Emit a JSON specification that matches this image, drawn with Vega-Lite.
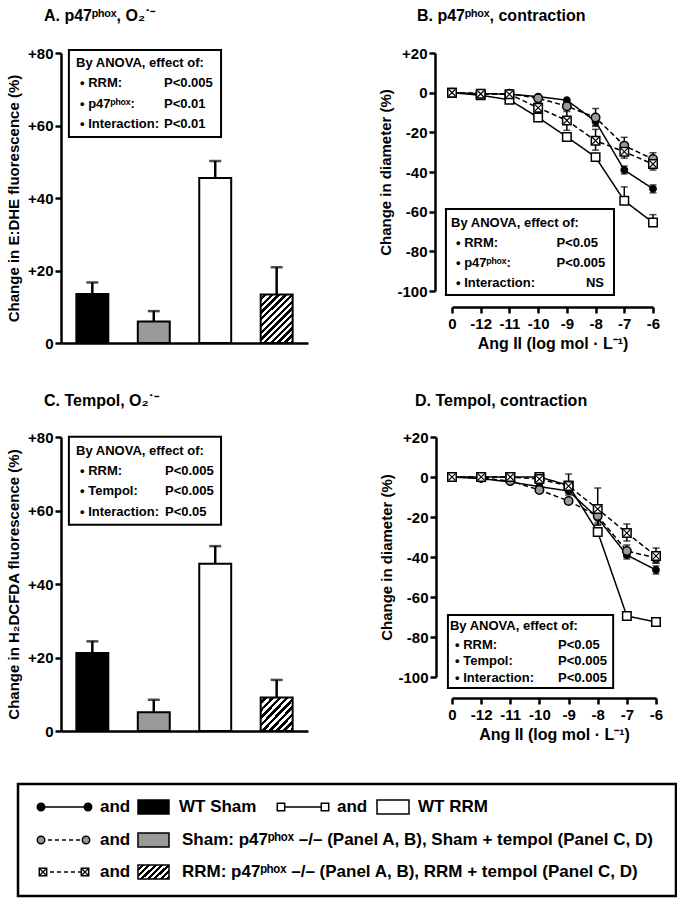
{
  "$schema": "https://vega.github.io/schema/vega-lite/v6.json",
  "padding": {"left": 6, "top": 8, "right": 0, "bottom": 0},
  "bounds": "flush",
  "columns": 2,
  "align": "each",
  "spacing": {"row": 94, "column": 144},
  "resolve": {"scale": {"fill": "independent", "shape": "independent", "strokeDash": "independent"}},
  "concat": [
    {
      "width": 247, "height": 290,
      "title": {"text": "A. p47ᵖʰᵒˣ, O₂˙⁻", "dx": -17, "offset": 22},
      "layer": [
        {
          "data": {"values": [
            {"grp": "WT Sham", "val": 13.5, "hi": 16.7},
            {"grp": "Sham p47-/-", "val": 5.9, "hi": 8.8},
            {"grp": "WT RRM", "val": 45.5, "hi": 50.2},
            {"grp": "RRM p47-/-", "val": 13.4, "hi": 20.9}
          ]},
          "layer": [
            {
              "transform": [{"filter": "datum.grp !== 'RRM p47-/-'"}],
              "mark": {"type": "bar", "stroke": "#000", "strokeWidth": 2},
              "encoding": {
                "x": {"field": "grp", "type": "nominal", "sort": null, "scale": {"domain": ["WT Sham", "Sham p47-/-", "WT RRM", "RRM p47-/-"], "paddingInner": 0.48, "paddingOuter": 0.25}, "axis": {"labels": false, "ticks": false, "title": null}},
                "y": {"field": "val", "type": "quantitative", "scale": {"domain": [0, 80], "nice": false}, "axis": {"values": [0, 20, 40, 60, 80], "labelExpr": "datum.value > 0 ? '+' + datum.label : datum.label", "title": "Change in E:DHE fluorescence (%)", "titlePadding": 6}},
                "fill": {"field": "grp", "type": "nominal", "scale": {"domain": ["WT Sham", "Sham p47-/-", "WT RRM"], "range": ["#000000", "#9a9a9a", "#ffffff"]}, "legend": null}
              }
            },
            {
              "transform": [{"filter": "datum.grp === 'RRM p47-/-'"}],
              "mark": {"type": "bar", "stroke": "#000", "strokeWidth": 2, "fill": {"gradient": "linear", "x1": 0, "y1": 0, "x2": 0.76, "y2": 1.16, "stops": [
                {"offset": 0, "color": "#ffffff"}, {"offset": 0.0417, "color": "#ffffff"}, {"offset": 0.0417, "color": "#000000"}, {"offset": 0.0833, "color": "#000000"},
                {"offset": 0.0833, "color": "#ffffff"}, {"offset": 0.125, "color": "#ffffff"}, {"offset": 0.125, "color": "#000000"}, {"offset": 0.1667, "color": "#000000"},
                {"offset": 0.1667, "color": "#ffffff"}, {"offset": 0.2083, "color": "#ffffff"}, {"offset": 0.2083, "color": "#000000"}, {"offset": 0.25, "color": "#000000"},
                {"offset": 0.25, "color": "#ffffff"}, {"offset": 0.2917, "color": "#ffffff"}, {"offset": 0.2917, "color": "#000000"}, {"offset": 0.3333, "color": "#000000"},
                {"offset": 0.3333, "color": "#ffffff"}, {"offset": 0.375, "color": "#ffffff"}, {"offset": 0.375, "color": "#000000"}, {"offset": 0.4167, "color": "#000000"},
                {"offset": 0.4167, "color": "#ffffff"}, {"offset": 0.4583, "color": "#ffffff"}, {"offset": 0.4583, "color": "#000000"}, {"offset": 0.5, "color": "#000000"},
                {"offset": 0.5, "color": "#ffffff"}, {"offset": 0.5417, "color": "#ffffff"}, {"offset": 0.5417, "color": "#000000"}, {"offset": 0.5833, "color": "#000000"},
                {"offset": 0.5833, "color": "#ffffff"}, {"offset": 0.625, "color": "#ffffff"}, {"offset": 0.625, "color": "#000000"}, {"offset": 0.6667, "color": "#000000"},
                {"offset": 0.6667, "color": "#ffffff"}, {"offset": 0.7083, "color": "#ffffff"}, {"offset": 0.7083, "color": "#000000"}, {"offset": 0.75, "color": "#000000"},
                {"offset": 0.75, "color": "#ffffff"}, {"offset": 0.7917, "color": "#ffffff"}, {"offset": 0.7917, "color": "#000000"}, {"offset": 0.8333, "color": "#000000"},
                {"offset": 0.8333, "color": "#ffffff"}, {"offset": 0.875, "color": "#ffffff"}, {"offset": 0.875, "color": "#000000"}, {"offset": 0.9167, "color": "#000000"},
                {"offset": 0.9167, "color": "#ffffff"}, {"offset": 0.9583, "color": "#ffffff"}, {"offset": 0.9583, "color": "#000000"}, {"offset": 1, "color": "#000000"}]}},
              "encoding": {
                "x": {"field": "grp", "type": "nominal", "sort": null, "scale": {"domain": ["WT Sham", "Sham p47-/-", "WT RRM", "RRM p47-/-"], "paddingInner": 0.48, "paddingOuter": 0.25}, "axis": {"labels": false, "ticks": false, "title": null}},
                "y": {"field": "val", "type": "quantitative", "scale": {"domain": [0, 80], "nice": false}, "axis": {"values": [0, 20, 40, 60, 80], "labelExpr": "datum.value > 0 ? '+' + datum.label : datum.label", "title": "Change in E:DHE fluorescence (%)", "titlePadding": 6}}
              }
            },
            {
              "mark": {"type": "rule", "color": "#000", "strokeWidth": 2.5},
              "encoding": {
                "x": {"field": "grp", "type": "nominal", "sort": null, "scale": {"domain": ["WT Sham", "Sham p47-/-", "WT RRM", "RRM p47-/-"], "paddingInner": 0.48, "paddingOuter": 0.25}, "axis": {"labels": false, "ticks": false, "title": null}},
                "y": {"field": "hi", "type": "quantitative", "scale": {"domain": [0, 80], "nice": false}, "axis": {"values": [0, 20, 40, 60, 80], "labelExpr": "datum.value > 0 ? '+' + datum.label : datum.label", "title": "Change in E:DHE fluorescence (%)", "titlePadding": 6}},
                "y2": {"field": "val"}
              }
            },
            {
              "mark": {"type": "tick", "color": "#000", "thickness": 2.5, "size": 12},
              "encoding": {
                "x": {"field": "grp", "type": "nominal", "sort": null, "scale": {"domain": ["WT Sham", "Sham p47-/-", "WT RRM", "RRM p47-/-"], "paddingInner": 0.48, "paddingOuter": 0.25}, "axis": {"labels": false, "ticks": false, "title": null}},
                "y": {"field": "hi", "type": "quantitative", "scale": {"domain": [0, 80], "nice": false}, "axis": {"values": [0, 20, 40, 60, 80], "labelExpr": "datum.value > 0 ? '+' + datum.label : datum.label", "title": "Change in E:DHE fluorescence (%)", "titlePadding": 6}}
              }
            }
          ]
        },
        {
          "data": {"values": [{"ax": 0.032, "ax2": 0.648, "ay": 80.8, "ay2": 56.8}]},
          "mark": {"type": "rect", "fill": "#ffffff", "stroke": "#000", "strokeWidth": 2},
          "encoding": {
            "x": {"field": "ax", "type": "quantitative", "scale": {"domain": [0, 1], "nice": false, "zero": false}, "axis": null},
            "x2": {"field": "ax2"},
            "y": {"field": "ay", "type": "quantitative", "scale": {"domain": [0, 80], "nice": false}, "axis": {"values": [0, 20, 40, 60, 80], "labelExpr": "datum.value > 0 ? '+' + datum.label : datum.label", "title": "Change in E:DHE fluorescence (%)", "titlePadding": 6}},
            "y2": {"field": "ay2"}
          }
        },
        {
          "data": {"values": [
            {"ax": 0.061, "ay": 76.2, "label": "By ANOVA, effect of:"},
            {"ax": 0.077, "ay": 70.5, "label": "• RRM:"},
            {"ax": 0.077, "ay": 64.7, "label": "• p47ᵖʰᵒˣ:"},
            {"ax": 0.077, "ay": 59.2, "label": "• Interaction:"},
            {"ax": 0.417, "ay": 70.5, "label": "P<0.005"},
            {"ax": 0.417, "ay": 64.7, "label": "P<0.01"},
            {"ax": 0.417, "ay": 59.2, "label": "P<0.01"}
          ]},
          "mark": {"type": "text", "align": "left", "baseline": "alphabetic", "fontSize": 13},
          "encoding": {
            "x": {"field": "ax", "type": "quantitative", "scale": {"domain": [0, 1], "nice": false, "zero": false}, "axis": null},
            "y": {"field": "ay", "type": "quantitative", "scale": {"domain": [0, 80], "nice": false}, "axis": {"values": [0, 20, 40, 60, 80], "labelExpr": "datum.value > 0 ? '+' + datum.label : datum.label", "title": "Change in E:DHE fluorescence (%)", "titlePadding": 6}},
            "text": {"field": "label"}
          }
        }
      ],
      "resolve": {"scale": {"x": "independent"}}
    },
    {
      "width": 201, "height": 238,
      "title": {"text": "B. p47ᵖʰᵒˣ, contraction", "dx": -35, "offset": 22},
      "layer": [
        {
          "data": {"values": [
            {"c": "0", "s": "WT Sham", "v": 0, "lo": 0, "hi": 0},
            {"c": "-12", "s": "WT Sham", "v": -0.5, "lo": -0.5, "hi": -0.5},
            {"c": "-11", "s": "WT Sham", "v": -0.7, "lo": -0.7, "hi": -0.7},
            {"c": "-10", "s": "WT Sham", "v": -2, "lo": -2, "hi": -2},
            {"c": "-9", "s": "WT Sham", "v": -3.8, "lo": -3.8, "hi": -3.8},
            {"c": "-8", "s": "WT Sham", "v": -14.5, "lo": -16.5, "hi": -12.5},
            {"c": "-7", "s": "WT Sham", "v": -39, "lo": -41, "hi": -37},
            {"c": "-6", "s": "WT Sham", "v": -48.5, "lo": -50.5, "hi": -46.5},
            {"c": "0", "s": "WT RRM", "v": 0, "lo": 0, "hi": 0},
            {"c": "-12", "s": "WT RRM", "v": -1.3, "lo": -1.3, "hi": -1.3},
            {"c": "-11", "s": "WT RRM", "v": -3.6, "lo": -3.6, "hi": -3.6},
            {"c": "-10", "s": "WT RRM", "v": -12.5, "lo": -12.5, "hi": -12.5},
            {"c": "-9", "s": "WT RRM", "v": -22.3, "lo": -22.3, "hi": -22.3},
            {"c": "-8", "s": "WT RRM", "v": -32.5, "lo": -34, "hi": -31},
            {"c": "-7", "s": "WT RRM", "v": -54.5, "lo": -54.5, "hi": -47.5},
            {"c": "-6", "s": "WT RRM", "v": -65.5, "lo": -65.5, "hi": -61.5},
            {"c": "0", "s": "Sham p47-/-", "v": 0, "lo": 0, "hi": 0},
            {"c": "-12", "s": "Sham p47-/-", "v": -0.5, "lo": -0.5, "hi": -0.5},
            {"c": "-11", "s": "Sham p47-/-", "v": -0.5, "lo": -0.5, "hi": -0.5},
            {"c": "-10", "s": "Sham p47-/-", "v": -2.8, "lo": -2.8, "hi": -2.8},
            {"c": "-9", "s": "Sham p47-/-", "v": -6.8, "lo": -8.5, "hi": -5},
            {"c": "-8", "s": "Sham p47-/-", "v": -12.5, "lo": -17, "hi": -8},
            {"c": "-7", "s": "Sham p47-/-", "v": -26.7, "lo": -31, "hi": -22.5},
            {"c": "-6", "s": "Sham p47-/-", "v": -33.5, "lo": -36.5, "hi": -30.3},
            {"c": "0", "s": "RRM p47-/-", "v": 0, "lo": 0, "hi": 0},
            {"c": "-12", "s": "RRM p47-/-", "v": -0.6, "lo": -0.6, "hi": -0.6},
            {"c": "-11", "s": "RRM p47-/-", "v": -0.8, "lo": -0.8, "hi": -0.8},
            {"c": "-10", "s": "RRM p47-/-", "v": -7.6, "lo": -10, "hi": -5},
            {"c": "-9", "s": "RRM p47-/-", "v": -14, "lo": -19, "hi": -9.5},
            {"c": "-8", "s": "RRM p47-/-", "v": -24.2, "lo": -29, "hi": -18.5},
            {"c": "-7", "s": "RRM p47-/-", "v": -29.8, "lo": -33, "hi": -26},
            {"c": "-6", "s": "RRM p47-/-", "v": -36, "lo": -39, "hi": -32.5}
          ]},
          "layer": [
            {
              "mark": {"type": "line", "color": "#000", "strokeWidth": 1.5},
              "encoding": {
                "x": {"field": "c", "type": "ordinal", "sort": null, "scale": {"type": "point", "padding": 0, "domain": ["0", "-12", "-11", "-10", "-9", "-8", "-7", "-6"]}, "axis": {"title": "Ang II (log mol · L⁻¹)", "labelAngle": 0, "offset": 16, "titleFontSize": 16, "labelPadding": 3, "titlePadding": 4}},
                "y": {"field": "v", "type": "quantitative", "scale": {"domain": [-100, 20], "nice": false, "zero": false}, "axis": {"values": [-100, -80, -60, -40, -20, 0, 20], "labelExpr": "datum.value > 0 ? '+' + datum.value : (datum.value < 0 ? '-' + abs(datum.value) : '0')", "title": "Change in diameter (%)", "offset": 17, "titlePadding": 3}},
                "strokeDash": {"field": "s", "type": "nominal", "scale": {"domain": ["WT Sham", "WT RRM", "Sham p47-/-", "RRM p47-/-"], "range": [[1, 0], [1, 0], [5, 3], [5, 3]]}, "legend": null}
              }
            },
            {
              "transform": [{"filter": "datum.hi > datum.lo"}],
              "mark": {"type": "rule", "color": "#000", "strokeWidth": 1.5},
              "encoding": {
                "x": {"field": "c", "type": "ordinal", "sort": null, "scale": {"type": "point", "padding": 0, "domain": ["0", "-12", "-11", "-10", "-9", "-8", "-7", "-6"]}, "axis": {"title": "Ang II (log mol · L⁻¹)", "labelAngle": 0, "offset": 16, "titleFontSize": 16, "labelPadding": 3, "titlePadding": 4}},
                "y": {"field": "lo", "type": "quantitative", "scale": {"domain": [-100, 20], "nice": false, "zero": false}, "axis": {"values": [-100, -80, -60, -40, -20, 0, 20], "labelExpr": "datum.value > 0 ? '+' + datum.value : (datum.value < 0 ? '-' + abs(datum.value) : '0')", "title": "Change in diameter (%)", "offset": 17, "titlePadding": 3}},
                "y2": {"field": "hi"}
              }
            },
            {
              "transform": [{"filter": "datum.hi > datum.v"}],
              "mark": {"type": "tick", "color": "#000", "thickness": 1.5, "size": 7},
              "encoding": {
                "x": {"field": "c", "type": "ordinal", "sort": null, "scale": {"type": "point", "padding": 0, "domain": ["0", "-12", "-11", "-10", "-9", "-8", "-7", "-6"]}, "axis": {"title": "Ang II (log mol · L⁻¹)", "labelAngle": 0, "offset": 16, "titleFontSize": 16, "labelPadding": 3, "titlePadding": 4}},
                "y": {"field": "hi", "type": "quantitative", "scale": {"domain": [-100, 20], "nice": false, "zero": false}, "axis": {"values": [-100, -80, -60, -40, -20, 0, 20], "labelExpr": "datum.value > 0 ? '+' + datum.value : (datum.value < 0 ? '-' + abs(datum.value) : '0')", "title": "Change in diameter (%)", "offset": 17, "titlePadding": 3}}
              }
            },
            {
              "transform": [{"filter": "datum.lo < datum.v"}],
              "mark": {"type": "tick", "color": "#000", "thickness": 1.5, "size": 7},
              "encoding": {
                "x": {"field": "c", "type": "ordinal", "sort": null, "scale": {"type": "point", "padding": 0, "domain": ["0", "-12", "-11", "-10", "-9", "-8", "-7", "-6"]}, "axis": {"title": "Ang II (log mol · L⁻¹)", "labelAngle": 0, "offset": 16, "titleFontSize": 16, "labelPadding": 3, "titlePadding": 4}},
                "y": {"field": "lo", "type": "quantitative", "scale": {"domain": [-100, 20], "nice": false, "zero": false}, "axis": {"values": [-100, -80, -60, -40, -20, 0, 20], "labelExpr": "datum.value > 0 ? '+' + datum.value : (datum.value < 0 ? '-' + abs(datum.value) : '0')", "title": "Change in diameter (%)", "offset": 17, "titlePadding": 3}}
              }
            },
            {
              "mark": {"type": "point", "filled": true, "stroke": "#000", "strokeWidth": 1.5, "opacity": 1},
              "encoding": {
                "x": {"field": "c", "type": "ordinal", "sort": null, "scale": {"type": "point", "padding": 0, "domain": ["0", "-12", "-11", "-10", "-9", "-8", "-7", "-6"]}, "axis": {"title": "Ang II (log mol · L⁻¹)", "labelAngle": 0, "offset": 16, "titleFontSize": 16, "labelPadding": 3, "titlePadding": 4}},
                "y": {"field": "v", "type": "quantitative", "scale": {"domain": [-100, 20], "nice": false, "zero": false}, "axis": {"values": [-100, -80, -60, -40, -20, 0, 20], "labelExpr": "datum.value > 0 ? '+' + datum.value : (datum.value < 0 ? '-' + abs(datum.value) : '0')", "title": "Change in diameter (%)", "offset": 17, "titlePadding": 3}},
                "shape": {"field": "s", "type": "nominal", "scale": {"domain": ["WT Sham", "WT RRM", "Sham p47-/-", "RRM p47-/-"], "range": ["circle", "square", "circle", "square"]}, "legend": null},
                "fill": {"field": "s", "type": "nominal", "scale": {"domain": ["WT Sham", "WT RRM", "Sham p47-/-", "RRM p47-/-"], "range": ["#000000", "#ffffff", "#9a9a9a", "#ffffff"]}, "legend": null},
                "size": {"condition": {"test": "datum.s === 'WT Sham'", "value": 40}, "value": 72}
              }
            },
            {
              "transform": [{"filter": "datum.s === 'RRM p47-/-'"}],
              "mark": {"type": "point", "shape": "M-0.8,-0.8L0.8,0.8M-0.8,0.8L0.8,-0.8", "filled": false, "stroke": "#000", "strokeWidth": 1.2, "size": 72, "opacity": 1},
              "encoding": {
                "x": {"field": "c", "type": "ordinal", "sort": null, "scale": {"type": "point", "padding": 0, "domain": ["0", "-12", "-11", "-10", "-9", "-8", "-7", "-6"]}, "axis": {"title": "Ang II (log mol · L⁻¹)", "labelAngle": 0, "offset": 16, "titleFontSize": 16, "labelPadding": 3, "titlePadding": 4}},
                "y": {"field": "v", "type": "quantitative", "scale": {"domain": [-100, 20], "nice": false, "zero": false}, "axis": {"values": [-100, -80, -60, -40, -20, 0, 20], "labelExpr": "datum.value > 0 ? '+' + datum.value : (datum.value < 0 ? '-' + abs(datum.value) : '0')", "title": "Change in diameter (%)", "offset": 17, "titlePadding": 3}}
              }
            }
          ]
        },
        {
          "data": {"values": [{"ax": -0.03, "ax2": 0.806, "ay": -58.6, "ay2": -102}]},
          "mark": {"type": "rect", "fill": "#ffffff", "stroke": "#000", "strokeWidth": 2},
          "encoding": {
            "x": {"field": "ax", "type": "quantitative", "scale": {"domain": [0, 1], "nice": false, "zero": false}, "axis": null},
            "x2": {"field": "ax2"},
            "y": {"field": "ay", "type": "quantitative", "scale": {"domain": [-100, 20], "nice": false, "zero": false}, "axis": {"values": [-100, -80, -60, -40, -20, 0, 20], "labelExpr": "datum.value > 0 ? '+' + datum.value : (datum.value < 0 ? '-' + abs(datum.value) : '0')", "title": "Change in diameter (%)", "offset": 17, "titlePadding": 3}},
            "y2": {"field": "ay2"}
          }
        },
        {
          "data": {"values": [
            {"ax": -0.005, "ay": -67.6, "label": "By ANOVA, effect of:"},
            {"ax": 0.02, "ay": -77.7, "label": "• RRM:"},
            {"ax": 0.02, "ay": -88, "label": "• p47ᵖʰᵒˣ:"},
            {"ax": 0.02, "ay": -97.9, "label": "• Interaction:"},
            {"ax": 0.52, "ay": -77.7, "label": "P<0.05"},
            {"ax": 0.52, "ay": -88, "label": "P<0.005"}
          ]},
          "mark": {"type": "text", "align": "left", "baseline": "alphabetic", "fontSize": 13},
          "encoding": {
            "x": {"field": "ax", "type": "quantitative", "scale": {"domain": [0, 1], "nice": false, "zero": false}, "axis": null},
            "y": {"field": "ay", "type": "quantitative", "scale": {"domain": [-100, 20], "nice": false, "zero": false}, "axis": {"values": [-100, -80, -60, -40, -20, 0, 20], "labelExpr": "datum.value > 0 ? '+' + datum.value : (datum.value < 0 ? '-' + abs(datum.value) : '0')", "title": "Change in diameter (%)", "offset": 17, "titlePadding": 3}},
            "text": {"field": "label"}
          }
        },
        {
          "data": {"values": [{"ax": 0.756, "ay": -97.9, "label": "NS"}]},
          "mark": {"type": "text", "align": "right", "baseline": "alphabetic", "fontSize": 13},
          "encoding": {
            "x": {"field": "ax", "type": "quantitative", "scale": {"domain": [0, 1], "nice": false, "zero": false}, "axis": null},
            "y": {"field": "ay", "type": "quantitative", "scale": {"domain": [-100, 20], "nice": false, "zero": false}, "axis": {"values": [-100, -80, -60, -40, -20, 0, 20], "labelExpr": "datum.value > 0 ? '+' + datum.value : (datum.value < 0 ? '-' + abs(datum.value) : '0')", "title": "Change in diameter (%)", "offset": 17, "titlePadding": 3}},
            "text": {"field": "label"}
          }
        }
      ],
      "resolve": {"scale": {"x": "independent"}}
    },
    {
      "width": 247, "height": 294,
      "title": {"text": "C. Tempol, O₂˙⁻", "dx": -17, "offset": 21},
      "layer": [
        {
          "data": {"values": [
            {"grp": "WT Sham", "val": 21.2, "hi": 24.4},
            {"grp": "Sham + tempol", "val": 5.1, "hi": 8.5},
            {"grp": "WT RRM", "val": 45.5, "hi": 50.3},
            {"grp": "RRM + tempol", "val": 9.1, "hi": 13.9}
          ]},
          "layer": [
            {
              "transform": [{"filter": "datum.grp !== 'RRM + tempol'"}],
              "mark": {"type": "bar", "stroke": "#000", "strokeWidth": 2},
              "encoding": {
                "x": {"field": "grp", "type": "nominal", "sort": null, "scale": {"domain": ["WT Sham", "Sham + tempol", "WT RRM", "RRM + tempol"], "paddingInner": 0.48, "paddingOuter": 0.25}, "axis": {"labels": false, "ticks": false, "title": null}},
                "y": {"field": "val", "type": "quantitative", "scale": {"domain": [0, 80], "nice": false}, "axis": {"values": [0, 20, 40, 60, 80], "labelExpr": "datum.value > 0 ? '+' + datum.label : datum.label", "title": "Change in H₂DCFDA fluorescence (%)", "titlePadding": 6}},
                "fill": {"field": "grp", "type": "nominal", "scale": {"domain": ["WT Sham", "Sham + tempol", "WT RRM"], "range": ["#000000", "#9a9a9a", "#ffffff"]}, "legend": null}
              }
            },
            {
              "transform": [{"filter": "datum.grp === 'RRM + tempol'"}],
              "mark": {"type": "bar", "stroke": "#000", "strokeWidth": 2, "fill": {"gradient": "linear", "x1": 0, "y1": 0, "x2": 1, "y2": 1, "stops": [
                {"offset": 0, "color": "#ffffff"}, {"offset": 0.0556, "color": "#ffffff"}, {"offset": 0.0556, "color": "#000000"}, {"offset": 0.1111, "color": "#000000"},
                {"offset": 0.1111, "color": "#ffffff"}, {"offset": 0.1667, "color": "#ffffff"}, {"offset": 0.1667, "color": "#000000"}, {"offset": 0.2222, "color": "#000000"},
                {"offset": 0.2222, "color": "#ffffff"}, {"offset": 0.2778, "color": "#ffffff"}, {"offset": 0.2778, "color": "#000000"}, {"offset": 0.3333, "color": "#000000"},
                {"offset": 0.3333, "color": "#ffffff"}, {"offset": 0.3889, "color": "#ffffff"}, {"offset": 0.3889, "color": "#000000"}, {"offset": 0.4444, "color": "#000000"},
                {"offset": 0.4444, "color": "#ffffff"}, {"offset": 0.5, "color": "#ffffff"}, {"offset": 0.5, "color": "#000000"}, {"offset": 0.5556, "color": "#000000"},
                {"offset": 0.5556, "color": "#ffffff"}, {"offset": 0.6111, "color": "#ffffff"}, {"offset": 0.6111, "color": "#000000"}, {"offset": 0.6667, "color": "#000000"},
                {"offset": 0.6667, "color": "#ffffff"}, {"offset": 0.7222, "color": "#ffffff"}, {"offset": 0.7222, "color": "#000000"}, {"offset": 0.7778, "color": "#000000"},
                {"offset": 0.7778, "color": "#ffffff"}, {"offset": 0.8333, "color": "#ffffff"}, {"offset": 0.8333, "color": "#000000"}, {"offset": 0.8889, "color": "#000000"},
                {"offset": 0.8889, "color": "#ffffff"}, {"offset": 0.9444, "color": "#ffffff"}, {"offset": 0.9444, "color": "#000000"}, {"offset": 1, "color": "#000000"}]}},
              "encoding": {
                "x": {"field": "grp", "type": "nominal", "sort": null, "scale": {"domain": ["WT Sham", "Sham + tempol", "WT RRM", "RRM + tempol"], "paddingInner": 0.48, "paddingOuter": 0.25}, "axis": {"labels": false, "ticks": false, "title": null}},
                "y": {"field": "val", "type": "quantitative", "scale": {"domain": [0, 80], "nice": false}, "axis": {"values": [0, 20, 40, 60, 80], "labelExpr": "datum.value > 0 ? '+' + datum.label : datum.label", "title": "Change in H₂DCFDA fluorescence (%)", "titlePadding": 6}}
              }
            },
            {
              "mark": {"type": "rule", "color": "#000", "strokeWidth": 2.5},
              "encoding": {
                "x": {"field": "grp", "type": "nominal", "sort": null, "scale": {"domain": ["WT Sham", "Sham + tempol", "WT RRM", "RRM + tempol"], "paddingInner": 0.48, "paddingOuter": 0.25}, "axis": {"labels": false, "ticks": false, "title": null}},
                "y": {"field": "hi", "type": "quantitative", "scale": {"domain": [0, 80], "nice": false}, "axis": {"values": [0, 20, 40, 60, 80], "labelExpr": "datum.value > 0 ? '+' + datum.label : datum.label", "title": "Change in H₂DCFDA fluorescence (%)", "titlePadding": 6}},
                "y2": {"field": "val"}
              }
            },
            {
              "mark": {"type": "tick", "color": "#000", "thickness": 2.5, "size": 12},
              "encoding": {
                "x": {"field": "grp", "type": "nominal", "sort": null, "scale": {"domain": ["WT Sham", "Sham + tempol", "WT RRM", "RRM + tempol"], "paddingInner": 0.48, "paddingOuter": 0.25}, "axis": {"labels": false, "ticks": false, "title": null}},
                "y": {"field": "hi", "type": "quantitative", "scale": {"domain": [0, 80], "nice": false}, "axis": {"values": [0, 20, 40, 60, 80], "labelExpr": "datum.value > 0 ? '+' + datum.label : datum.label", "title": "Change in H₂DCFDA fluorescence (%)", "titlePadding": 6}}
              }
            }
          ]
        },
        {
          "data": {"values": [{"ax": 0.032, "ax2": 0.648, "ay": 80.1, "ay2": 56.1}]},
          "mark": {"type": "rect", "fill": "#ffffff", "stroke": "#000", "strokeWidth": 2},
          "encoding": {
            "x": {"field": "ax", "type": "quantitative", "scale": {"domain": [0, 1], "nice": false, "zero": false}, "axis": null},
            "x2": {"field": "ax2"},
            "y": {"field": "ay", "type": "quantitative", "scale": {"domain": [0, 80], "nice": false}, "axis": {"values": [0, 20, 40, 60, 80], "labelExpr": "datum.value > 0 ? '+' + datum.label : datum.label", "title": "Change in H₂DCFDA fluorescence (%)", "titlePadding": 6}},
            "y2": {"field": "ay2"}
          }
        },
        {
          "data": {"values": [
            {"ax": 0.061, "ay": 75.1, "label": "By ANOVA, effect of:"},
            {"ax": 0.077, "ay": 69.7, "label": "• RRM:"},
            {"ax": 0.077, "ay": 64.2, "label": "• Tempol:"},
            {"ax": 0.077, "ay": 58.6, "label": "• Interaction:"},
            {"ax": 0.421, "ay": 69.7, "label": "P<0.005"},
            {"ax": 0.421, "ay": 64.2, "label": "P<0.005"},
            {"ax": 0.421, "ay": 58.6, "label": "P<0.05"}
          ]},
          "mark": {"type": "text", "align": "left", "baseline": "alphabetic", "fontSize": 13},
          "encoding": {
            "x": {"field": "ax", "type": "quantitative", "scale": {"domain": [0, 1], "nice": false, "zero": false}, "axis": null},
            "y": {"field": "ay", "type": "quantitative", "scale": {"domain": [0, 80], "nice": false}, "axis": {"values": [0, 20, 40, 60, 80], "labelExpr": "datum.value > 0 ? '+' + datum.label : datum.label", "title": "Change in H₂DCFDA fluorescence (%)", "titlePadding": 6}},
            "text": {"field": "label"}
          }
        }
      ],
      "resolve": {"scale": {"x": "independent"}}
    },
    {
      "width": 204, "height": 240,
      "title": {"text": "D. Tempol, contraction", "dx": -37, "offset": 21},
      "layer": [
        {
          "data": {"values": [
            {"c": "0", "s": "WT Sham", "v": 0, "lo": 0, "hi": 0},
            {"c": "-12", "s": "WT Sham", "v": -0.8, "lo": -0.8, "hi": -0.8},
            {"c": "-11", "s": "WT Sham", "v": -2.5, "lo": -2.5, "hi": -2.5},
            {"c": "-10", "s": "WT Sham", "v": -4.8, "lo": -4.8, "hi": -4.8},
            {"c": "-9", "s": "WT Sham", "v": -7, "lo": -9, "hi": -5},
            {"c": "-8", "s": "WT Sham", "v": -20.5, "lo": -24, "hi": -17},
            {"c": "-7", "s": "WT Sham", "v": -39, "lo": -41, "hi": -37},
            {"c": "-6", "s": "WT Sham", "v": -46.5, "lo": -48.5, "hi": -44.5},
            {"c": "0", "s": "WT RRM", "v": 0, "lo": 0, "hi": 0},
            {"c": "-12", "s": "WT RRM", "v": 0, "lo": 0, "hi": 0},
            {"c": "-11", "s": "WT RRM", "v": 0, "lo": 0, "hi": 0},
            {"c": "-10", "s": "WT RRM", "v": 0, "lo": 0, "hi": 0},
            {"c": "-9", "s": "WT RRM", "v": -4.2, "lo": -4.2, "hi": -4.2},
            {"c": "-8", "s": "WT RRM", "v": -27.5, "lo": -27.5, "hi": -27.5},
            {"c": "-7", "s": "WT RRM", "v": -69.5, "lo": -69.5, "hi": -69.5},
            {"c": "-6", "s": "WT RRM", "v": -72.5, "lo": -74, "hi": -71},
            {"c": "0", "s": "Sham + tempol", "v": 0, "lo": 0, "hi": 0},
            {"c": "-12", "s": "Sham + tempol", "v": -0.5, "lo": -0.5, "hi": -0.5},
            {"c": "-11", "s": "Sham + tempol", "v": -2, "lo": -2, "hi": -2},
            {"c": "-10", "s": "Sham + tempol", "v": -6.5, "lo": -6.5, "hi": -6.5},
            {"c": "-9", "s": "Sham + tempol", "v": -12, "lo": -12, "hi": -12},
            {"c": "-8", "s": "Sham + tempol", "v": -19.5, "lo": -24, "hi": -15},
            {"c": "-7", "s": "Sham + tempol", "v": -37, "lo": -40, "hi": -34},
            {"c": "-6", "s": "Sham + tempol", "v": -40.5, "lo": -43, "hi": -38},
            {"c": "0", "s": "RRM + tempol", "v": 0, "lo": 0, "hi": 0},
            {"c": "-12", "s": "RRM + tempol", "v": 0, "lo": 0, "hi": 0},
            {"c": "-11", "s": "RRM + tempol", "v": 0, "lo": 0, "hi": 0},
            {"c": "-10", "s": "RRM + tempol", "v": -1, "lo": -1, "hi": -1},
            {"c": "-9", "s": "RRM + tempol", "v": -4.5, "lo": -7, "hi": 1.5},
            {"c": "-8", "s": "RRM + tempol", "v": -16, "lo": -23, "hi": -5.5},
            {"c": "-7", "s": "RRM + tempol", "v": -28, "lo": -32, "hi": -23.5},
            {"c": "-6", "s": "RRM + tempol", "v": -39.5, "lo": -43, "hi": -35.5}
          ]},
          "layer": [
            {
              "mark": {"type": "line", "color": "#000", "strokeWidth": 1.5},
              "encoding": {
                "x": {"field": "c", "type": "ordinal", "sort": null, "scale": {"type": "point", "padding": 0, "domain": ["0", "-12", "-11", "-10", "-9", "-8", "-7", "-6"]}, "axis": {"title": "Ang II (log mol · L⁻¹)", "labelAngle": 0, "offset": 21, "titleFontSize": 16, "labelPadding": 3, "titlePadding": 4}},
                "y": {"field": "v", "type": "quantitative", "scale": {"domain": [-100, 20], "nice": false, "zero": false}, "axis": {"values": [-100, -80, -60, -40, -20, 0, 20], "labelExpr": "datum.value > 0 ? '+' + datum.value : (datum.value < 0 ? '-' + abs(datum.value) : '0')", "title": "Change in diameter (%)", "offset": 16, "titlePadding": 3}},
                "strokeDash": {"field": "s", "type": "nominal", "scale": {"domain": ["WT Sham", "WT RRM", "Sham + tempol", "RRM + tempol"], "range": [[1, 0], [1, 0], [5, 3], [5, 3]]}, "legend": null}
              }
            },
            {
              "transform": [{"filter": "datum.hi > datum.lo"}],
              "mark": {"type": "rule", "color": "#000", "strokeWidth": 1.5},
              "encoding": {
                "x": {"field": "c", "type": "ordinal", "sort": null, "scale": {"type": "point", "padding": 0, "domain": ["0", "-12", "-11", "-10", "-9", "-8", "-7", "-6"]}, "axis": {"title": "Ang II (log mol · L⁻¹)", "labelAngle": 0, "offset": 21, "titleFontSize": 16, "labelPadding": 3, "titlePadding": 4}},
                "y": {"field": "lo", "type": "quantitative", "scale": {"domain": [-100, 20], "nice": false, "zero": false}, "axis": {"values": [-100, -80, -60, -40, -20, 0, 20], "labelExpr": "datum.value > 0 ? '+' + datum.value : (datum.value < 0 ? '-' + abs(datum.value) : '0')", "title": "Change in diameter (%)", "offset": 16, "titlePadding": 3}},
                "y2": {"field": "hi"}
              }
            },
            {
              "transform": [{"filter": "datum.hi > datum.v"}],
              "mark": {"type": "tick", "color": "#000", "thickness": 1.5, "size": 7},
              "encoding": {
                "x": {"field": "c", "type": "ordinal", "sort": null, "scale": {"type": "point", "padding": 0, "domain": ["0", "-12", "-11", "-10", "-9", "-8", "-7", "-6"]}, "axis": {"title": "Ang II (log mol · L⁻¹)", "labelAngle": 0, "offset": 21, "titleFontSize": 16, "labelPadding": 3, "titlePadding": 4}},
                "y": {"field": "hi", "type": "quantitative", "scale": {"domain": [-100, 20], "nice": false, "zero": false}, "axis": {"values": [-100, -80, -60, -40, -20, 0, 20], "labelExpr": "datum.value > 0 ? '+' + datum.value : (datum.value < 0 ? '-' + abs(datum.value) : '0')", "title": "Change in diameter (%)", "offset": 16, "titlePadding": 3}}
              }
            },
            {
              "transform": [{"filter": "datum.lo < datum.v"}],
              "mark": {"type": "tick", "color": "#000", "thickness": 1.5, "size": 7},
              "encoding": {
                "x": {"field": "c", "type": "ordinal", "sort": null, "scale": {"type": "point", "padding": 0, "domain": ["0", "-12", "-11", "-10", "-9", "-8", "-7", "-6"]}, "axis": {"title": "Ang II (log mol · L⁻¹)", "labelAngle": 0, "offset": 21, "titleFontSize": 16, "labelPadding": 3, "titlePadding": 4}},
                "y": {"field": "lo", "type": "quantitative", "scale": {"domain": [-100, 20], "nice": false, "zero": false}, "axis": {"values": [-100, -80, -60, -40, -20, 0, 20], "labelExpr": "datum.value > 0 ? '+' + datum.value : (datum.value < 0 ? '-' + abs(datum.value) : '0')", "title": "Change in diameter (%)", "offset": 16, "titlePadding": 3}}
              }
            },
            {
              "mark": {"type": "point", "filled": true, "stroke": "#000", "strokeWidth": 1.5, "opacity": 1},
              "encoding": {
                "x": {"field": "c", "type": "ordinal", "sort": null, "scale": {"type": "point", "padding": 0, "domain": ["0", "-12", "-11", "-10", "-9", "-8", "-7", "-6"]}, "axis": {"title": "Ang II (log mol · L⁻¹)", "labelAngle": 0, "offset": 21, "titleFontSize": 16, "labelPadding": 3, "titlePadding": 4}},
                "y": {"field": "v", "type": "quantitative", "scale": {"domain": [-100, 20], "nice": false, "zero": false}, "axis": {"values": [-100, -80, -60, -40, -20, 0, 20], "labelExpr": "datum.value > 0 ? '+' + datum.value : (datum.value < 0 ? '-' + abs(datum.value) : '0')", "title": "Change in diameter (%)", "offset": 16, "titlePadding": 3}},
                "shape": {"field": "s", "type": "nominal", "scale": {"domain": ["WT Sham", "WT RRM", "Sham + tempol", "RRM + tempol"], "range": ["circle", "square", "circle", "square"]}, "legend": null},
                "fill": {"field": "s", "type": "nominal", "scale": {"domain": ["WT Sham", "WT RRM", "Sham + tempol", "RRM + tempol"], "range": ["#000000", "#ffffff", "#9a9a9a", "#ffffff"]}, "legend": null},
                "size": {"condition": {"test": "datum.s === 'WT Sham'", "value": 40}, "value": 72}
              }
            },
            {
              "transform": [{"filter": "datum.s === 'RRM + tempol'"}],
              "mark": {"type": "point", "shape": "M-0.8,-0.8L0.8,0.8M-0.8,0.8L0.8,-0.8", "filled": false, "stroke": "#000", "strokeWidth": 1.2, "size": 72, "opacity": 1},
              "encoding": {
                "x": {"field": "c", "type": "ordinal", "sort": null, "scale": {"type": "point", "padding": 0, "domain": ["0", "-12", "-11", "-10", "-9", "-8", "-7", "-6"]}, "axis": {"title": "Ang II (log mol · L⁻¹)", "labelAngle": 0, "offset": 21, "titleFontSize": 16, "labelPadding": 3, "titlePadding": 4}},
                "y": {"field": "v", "type": "quantitative", "scale": {"domain": [-100, 20], "nice": false, "zero": false}, "axis": {"values": [-100, -80, -60, -40, -20, 0, 20], "labelExpr": "datum.value > 0 ? '+' + datum.value : (datum.value < 0 ? '-' + abs(datum.value) : '0')", "title": "Change in diameter (%)", "offset": 16, "titlePadding": 3}}
              }
            }
          ]
        },
        {
          "data": {"values": [{"ax": -0.02, "ax2": 0.79, "ay": -69, "ay2": -105.5}]},
          "mark": {"type": "rect", "fill": "#ffffff", "stroke": "#000", "strokeWidth": 2},
          "encoding": {
            "x": {"field": "ax", "type": "quantitative", "scale": {"domain": [0, 1], "nice": false, "zero": false}, "axis": null},
            "x2": {"field": "ax2"},
            "y": {"field": "ay", "type": "quantitative", "scale": {"domain": [-100, 20], "nice": false, "zero": false}, "axis": {"values": [-100, -80, -60, -40, -20, 0, 20], "labelExpr": "datum.value > 0 ? '+' + datum.value : (datum.value < 0 ? '-' + abs(datum.value) : '0')", "title": "Change in diameter (%)", "offset": 16, "titlePadding": 3}},
            "y2": {"field": "ay2"}
          }
        },
        {
          "data": {"values": [
            {"ax": -0.01, "ay": -76.7, "label": "By ANOVA, effect of:"},
            {"ax": 0.015, "ay": -85.8, "label": "• RRM:"},
            {"ax": 0.015, "ay": -94.2, "label": "• Tempol:"},
            {"ax": 0.015, "ay": -102.5, "label": "• Interaction:"},
            {"ax": 0.52, "ay": -85.8, "label": "P<0.05"},
            {"ax": 0.52, "ay": -94.2, "label": "P<0.005"},
            {"ax": 0.52, "ay": -102.5, "label": "P<0.005"}
          ]},
          "mark": {"type": "text", "align": "left", "baseline": "alphabetic", "fontSize": 13},
          "encoding": {
            "x": {"field": "ax", "type": "quantitative", "scale": {"domain": [0, 1], "nice": false, "zero": false}, "axis": null},
            "y": {"field": "ay", "type": "quantitative", "scale": {"domain": [-100, 20], "nice": false, "zero": false}, "axis": {"values": [-100, -80, -60, -40, -20, 0, 20], "labelExpr": "datum.value > 0 ? '+' + datum.value : (datum.value < 0 ? '-' + abs(datum.value) : '0')", "title": "Change in diameter (%)", "offset": 16, "titlePadding": 3}},
            "text": {"field": "label"}
          }
        }
      ],
      "resolve": {"scale": {"x": "independent"}}
    },
    {
      "width": 247, "height": 71,
      "layer": [
        {
          "data": {"values": [{"lx": -0.1741, "lx2": 2.4899, "ly": -0.5775, "ly2": 1}]},
          "mark": {"type": "rect", "fill": "#ffffff", "stroke": "#000", "strokeWidth": 2.5},
          "encoding": {
            "x": {"field": "lx", "type": "quantitative", "scale": {"domain": [0, 1], "nice": false, "zero": false}, "axis": null},
            "x2": {"field": "lx2"},
            "y": {"field": "ly", "type": "quantitative", "scale": {"domain": [0, 1], "nice": false, "zero": false, "reverse": true}, "axis": null},
            "y2": {"field": "ly2"}
          }
        },
        {
          "data": {"values": [
            {"s": "WT Sham", "lx": -0.081, "lx2": 0.1093, "ly": -0.2535},
            {"s": "WT RRM", "lx": 0.8907, "lx2": 1.0688, "ly": -0.2535},
            {"s": "Sham", "lx": -0.081, "lx2": 0.1012, "ly": 0.2113},
            {"s": "RRM", "lx": -0.0729, "lx2": 0.0972, "ly": 0.662}
          ]},
          "mark": {"type": "rule", "color": "#000", "strokeWidth": 1.5},
          "encoding": {
            "x": {"field": "lx", "type": "quantitative", "scale": {"domain": [0, 1], "nice": false, "zero": false}, "axis": null},
            "x2": {"field": "lx2"},
            "y": {"field": "ly", "type": "quantitative", "scale": {"domain": [0, 1], "nice": false, "zero": false, "reverse": true}, "axis": null},
            "strokeDash": {"field": "s", "type": "nominal", "scale": {"domain": ["WT Sham", "WT RRM", "Sham", "RRM"], "range": [[1, 0], [1, 0], [4, 3], [4, 3]]}, "legend": null}
          }
        },
        {
          "data": {"values": [
            {"s": "WT Sham", "lx": -0.081, "ly": -0.2535},
            {"s": "WT Sham", "lx": 0.1093, "ly": -0.2535},
            {"s": "WT RRM", "lx": 0.8907, "ly": -0.2535},
            {"s": "WT RRM", "lx": 1.0688, "ly": -0.2535},
            {"s": "Sham", "lx": -0.081, "ly": 0.2113},
            {"s": "Sham", "lx": 0.1012, "ly": 0.2113},
            {"s": "RRM", "lx": -0.0729, "ly": 0.662},
            {"s": "RRM", "lx": 0.0972, "ly": 0.662}
          ]},
          "layer": [
            {
              "mark": {"type": "point", "filled": true, "stroke": "#000", "strokeWidth": 1.5, "opacity": 1},
              "encoding": {
                "x": {"field": "lx", "type": "quantitative", "scale": {"domain": [0, 1], "nice": false, "zero": false}, "axis": null},
                "y": {"field": "ly", "type": "quantitative", "scale": {"domain": [0, 1], "nice": false, "zero": false, "reverse": true}, "axis": null},
                "shape": {"field": "s", "type": "nominal", "scale": {"domain": ["WT Sham", "WT RRM", "Sham", "RRM"], "range": ["circle", "square", "circle", "square"]}, "legend": null},
                "fill": {"field": "s", "type": "nominal", "scale": {"domain": ["WT Sham", "WT RRM", "Sham", "RRM"], "range": ["#000000", "#ffffff", "#9a9a9a", "#ffffff"]}, "legend": null},
                "size": {"value": 55}
              }
            },
            {
              "transform": [{"filter": "datum.s === 'RRM'"}],
              "mark": {"type": "point", "shape": "M-0.8,-0.8L0.8,0.8M-0.8,0.8L0.8,-0.8", "filled": false, "stroke": "#000", "strokeWidth": 1.2, "size": 55, "opacity": 1},
              "encoding": {
                "x": {"field": "lx", "type": "quantitative", "scale": {"domain": [0, 1], "nice": false, "zero": false}, "axis": null},
                "y": {"field": "ly", "type": "quantitative", "scale": {"domain": [0, 1], "nice": false, "zero": false, "reverse": true}, "axis": null}
              }
            }
          ]
        },
        {
          "data": {"values": [
            {"s": "WT Sham", "lx": 0.3117, "lx2": 0.4372, "ly": -0.3521, "ly2": -0.1549},
            {"s": "WT RRM", "lx": 1.2794, "lx2": 1.4089, "ly": -0.3521, "ly2": -0.1549},
            {"s": "Sham", "lx": 0.3117, "lx2": 0.4372, "ly": 0.1127, "ly2": 0.3099}
          ]},
          "mark": {"type": "rect", "stroke": "#000", "strokeWidth": 1.5},
          "encoding": {
            "x": {"field": "lx", "type": "quantitative", "scale": {"domain": [0, 1], "nice": false, "zero": false}, "axis": null},
            "x2": {"field": "lx2"},
            "y": {"field": "ly", "type": "quantitative", "scale": {"domain": [0, 1], "nice": false, "zero": false, "reverse": true}, "axis": null},
            "y2": {"field": "ly2"},
            "fill": {"field": "s", "type": "nominal", "scale": {"domain": ["WT Sham", "WT RRM", "Sham", "RRM"], "range": ["#000000", "#ffffff", "#9a9a9a", "#ffffff"]}, "legend": null}
          }
        },
        {
          "data": {"values": [{"lx": 0.3117, "lx2": 0.4372, "ly": 0.5634, "ly2": 0.7606}]},
          "mark": {"type": "rect", "stroke": "#000", "strokeWidth": 1.5, "fill": {"gradient": "linear", "x1": 0, "y1": 0, "x2": 1.2, "y2": 0.56, "stops": [
            {"offset": 0, "color": "#ffffff"}, {"offset": 0.0714, "color": "#ffffff"}, {"offset": 0.0714, "color": "#000000"}, {"offset": 0.1429, "color": "#000000"},
            {"offset": 0.1429, "color": "#ffffff"}, {"offset": 0.2143, "color": "#ffffff"}, {"offset": 0.2143, "color": "#000000"}, {"offset": 0.2857, "color": "#000000"},
            {"offset": 0.2857, "color": "#ffffff"}, {"offset": 0.3571, "color": "#ffffff"}, {"offset": 0.3571, "color": "#000000"}, {"offset": 0.4286, "color": "#000000"},
            {"offset": 0.4286, "color": "#ffffff"}, {"offset": 0.5, "color": "#ffffff"}, {"offset": 0.5, "color": "#000000"}, {"offset": 0.5714, "color": "#000000"},
            {"offset": 0.5714, "color": "#ffffff"}, {"offset": 0.6429, "color": "#ffffff"}, {"offset": 0.6429, "color": "#000000"}, {"offset": 0.7143, "color": "#000000"},
            {"offset": 0.7143, "color": "#ffffff"}, {"offset": 0.7857, "color": "#ffffff"}, {"offset": 0.7857, "color": "#000000"}, {"offset": 0.8571, "color": "#000000"},
            {"offset": 0.8571, "color": "#ffffff"}, {"offset": 0.9286, "color": "#ffffff"}, {"offset": 0.9286, "color": "#000000"}, {"offset": 1, "color": "#000000"}]}},
          "encoding": {
            "x": {"field": "lx", "type": "quantitative", "scale": {"domain": [0, 1], "nice": false, "zero": false}, "axis": null},
            "x2": {"field": "lx2"},
            "y": {"field": "ly", "type": "quantitative", "scale": {"domain": [0, 1], "nice": false, "zero": false, "reverse": true}, "axis": null},
            "y2": {"field": "ly2"}
          }
        },
        {
          "data": {"values": [
            {"lx": 0.1579, "ly": -0.2535, "t": "and"},
            {"lx": 0.4777, "ly": -0.2535, "t": "WT Sham"},
            {"lx": 1.1174, "ly": -0.2535, "t": "and"},
            {"lx": 1.4453, "ly": -0.2535, "t": "WT RRM"},
            {"lx": 0.1579, "ly": 0.2113, "t": "and"},
            {"lx": 0.4899, "ly": 0.2113, "t": "Sham: p47ᵖʰᵒˣ –/– (Panel A, B), Sham + tempol (Panel C, D)"},
            {"lx": 0.1579, "ly": 0.662, "t": "and"},
            {"lx": 0.4899, "ly": 0.662, "t": "RRM: p47ᵖʰᵒˣ –/– (Panel A, B), RRM + tempol (Panel C, D)"}
          ]},
          "mark": {"type": "text", "align": "left", "baseline": "middle", "fontSize": 17},
          "encoding": {
            "x": {"field": "lx", "type": "quantitative", "scale": {"domain": [0, 1], "nice": false, "zero": false}, "axis": null},
            "y": {"field": "ly", "type": "quantitative", "scale": {"domain": [0, 1], "nice": false, "zero": false, "reverse": true}, "axis": null},
            "text": {"field": "t"}
          }
        }
      ]
    }
  ],
  "config": {
    "view": {"stroke": null},
    "font": "Liberation Sans",
    "axis": {"grid": false, "domainColor": "#000", "domainWidth": 2.5, "tickColor": "#000", "tickWidth": 2.5, "tickSize": 6, "labelColor": "#000", "labelFont": "Liberation Sans", "labelFontSize": 15, "labelFontWeight": "bold", "labelPadding": 2, "titleColor": "#000", "titleFont": "Liberation Sans", "titleFontSize": 15, "titleFontWeight": "bold"},
    "title": {"font": "Liberation Sans", "fontSize": 16, "fontWeight": "bold", "anchor": "start", "frame": "group", "color": "#000"},
    "text": {"font": "Liberation Sans", "fontWeight": "bold", "color": "#000"}
  }
}
